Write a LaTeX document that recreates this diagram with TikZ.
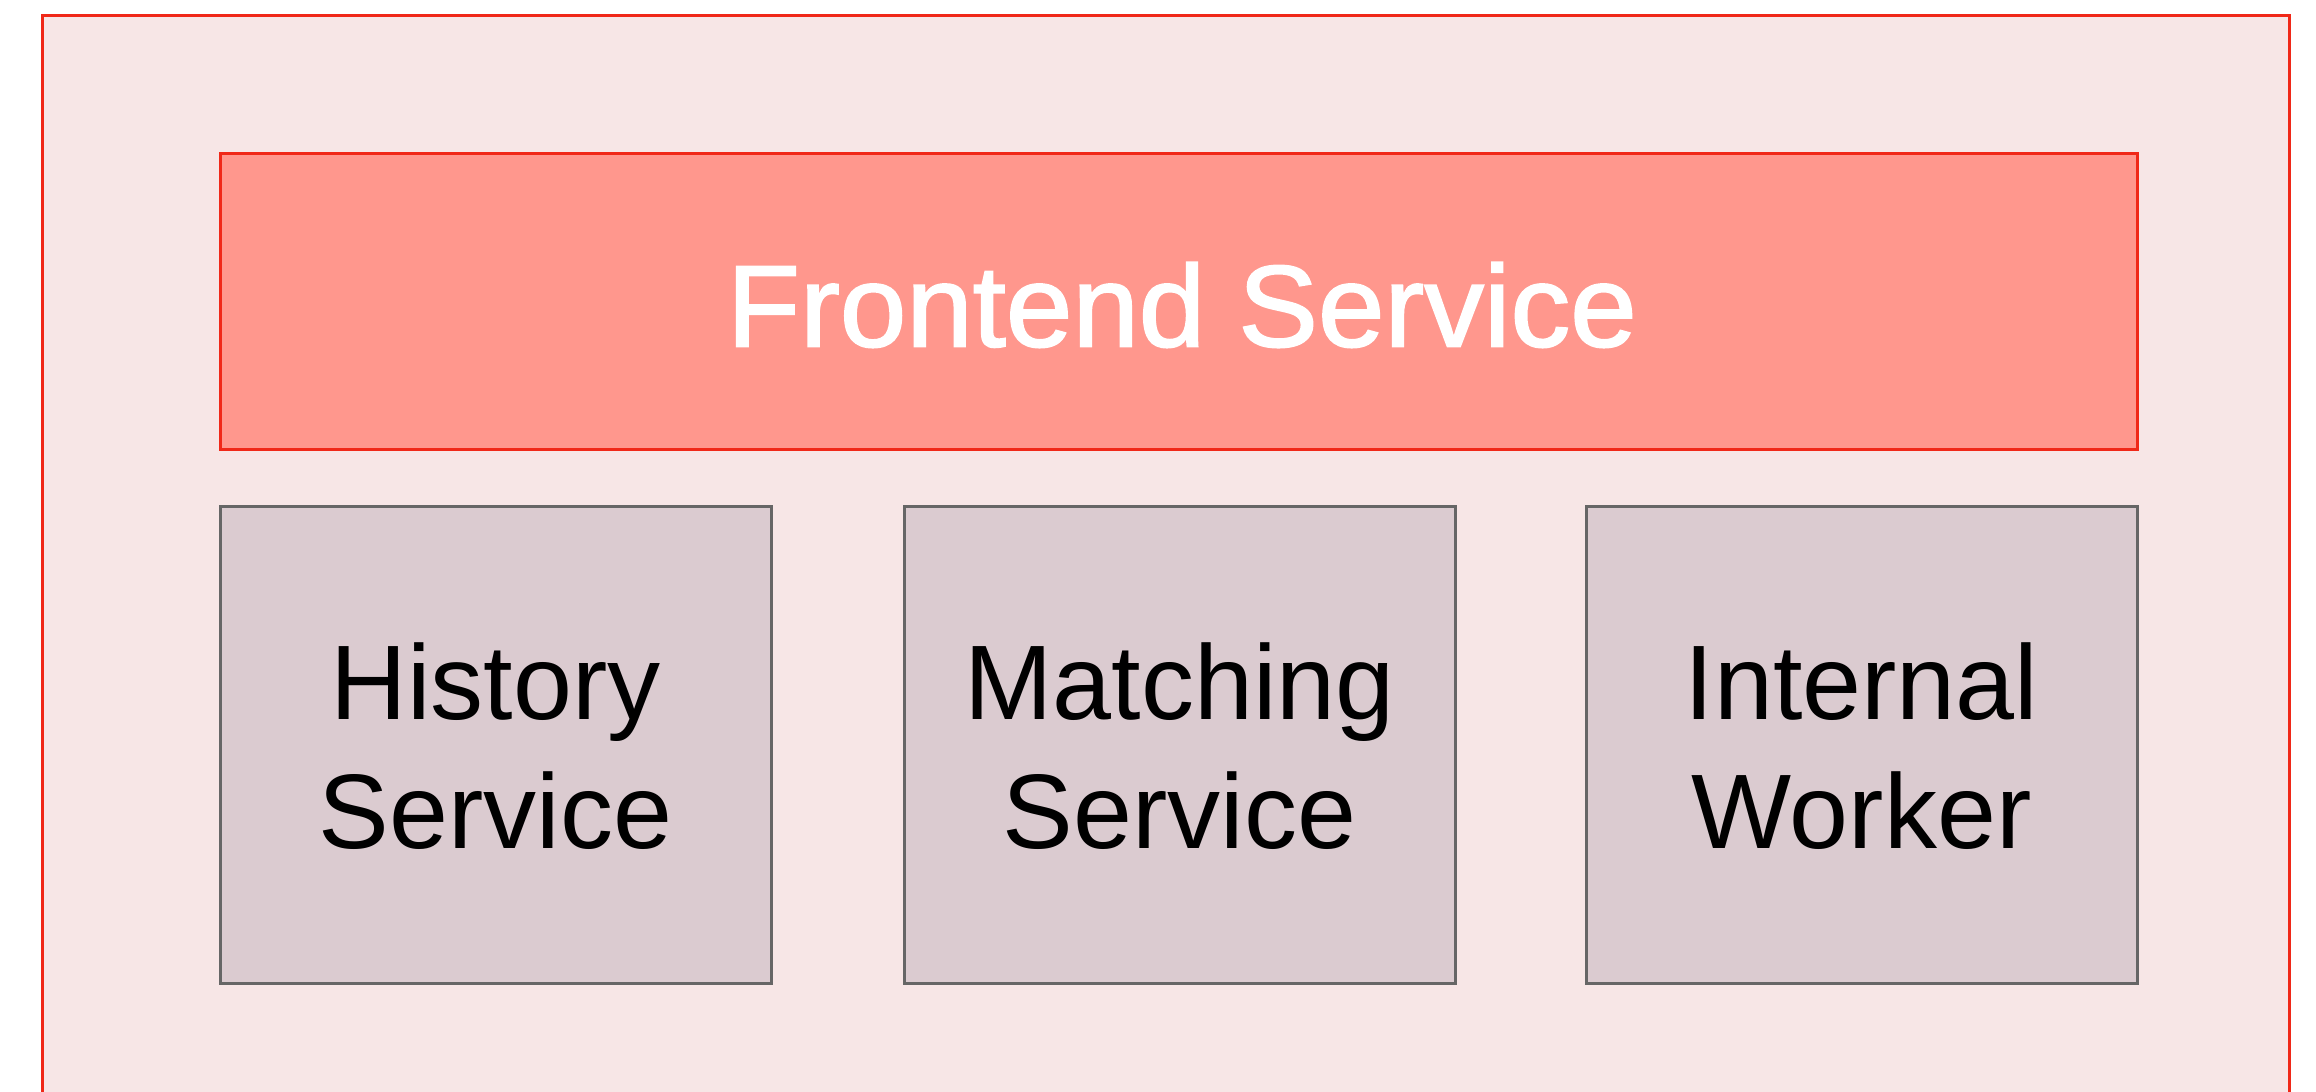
\documentclass[tikz,border=0pt]{standalone}
\usepackage{fontspec}
\setmainfont{Liberation Sans}
\newfontfamily\feFont[FakeBold=1.6,FakeStretch=1.03]{Liberation Sans}
\definecolor{outerfill}{HTML}{F7E6E6}
\definecolor{redline}{HTML}{F02818}
\definecolor{frontfill}{HTML}{FF978D}
\definecolor{boxfill}{HTML}{DBCBD0}
\definecolor{grayline}{HTML}{666666}
\begin{document}
\begin{tikzpicture}[x=1pt,y=-1pt,
  outerbox/.style={draw=redline,fill=outerfill,line width=3pt},
  frontbox/.style={draw=redline,fill=frontfill,line width=3pt},
  svcbox/.style={draw=grayline,fill=boxfill,line width=3pt},
  bigtext/.style={font=\feFont\fontsize{116}{139}\selectfont,text=white},
  svctext/.style={font=\fontsize{106}{129}\selectfont,align=center,text=black}]
\useasboundingbox (0,0) rectangle (2316,1092);
\begin{scope}
\clip (0,0) rectangle (2316,1092);
\draw[outerbox] (42,15) rectangle (2289,1120);
\end{scope}
\draw[frontbox] (220,153) rectangle (2137,449);
\node[bigtext] (fe) at (1182,305) {Frontend Service};
\draw[svcbox] (220,506) rectangle (771,983);
\draw[svcbox] (904,506) rectangle (1455,983);
\draw[svcbox] (1586,506) rectangle (2137,983);
\node[svctext] (hs) at (495.5,746) {History\\Service};
\node[svctext] (ms) at (1179.5,746) {Matching\\Service};
\node[svctext] (iw) at (1861.5,746) {Internal\\Worker};
\end{tikzpicture}
\end{document}
